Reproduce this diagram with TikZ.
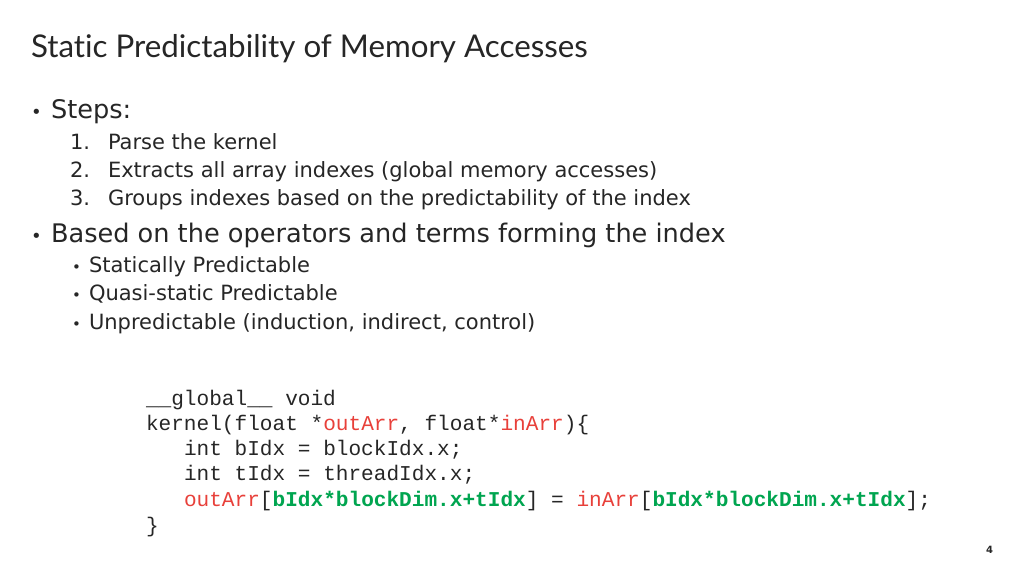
\documentclass[tikz,border=0pt]{standalone}
\usepackage{fontspec}
\setmainfont{DejaVu Sans}
\newfontfamily\titlefont[Ligatures=NoCommon]{Lato}
\newfontfamily\codefont{Liberation Mono}
\definecolor{txt}{HTML}{262626}
\definecolor{cred}{HTML}{E8403A}
\definecolor{cgreen}{HTML}{00A550}
\begin{document}
\begin{tikzpicture}[x=1pt,y=-1pt,
  every node/.style={anchor=base west,inner sep=0pt,outer sep=0pt,text=txt},
  big/.style={font=\fontsize{25.6}{28}\selectfont},
  small/.style={font=\fontsize{21}{24}\selectfont},
  code/.style={font=\codefont\fontsize{21.1}{25}\selectfont}]
\useasboundingbox[fill=white] (0,0) rectangle (1024,576);
\node (title) [font=\titlefont\fontsize{31.3}{34}\selectfont] at (31,57) {Static Predictability of Memory Accesses};
\node (b1) [font=\fontsize{18}{20}\selectfont] at (31,118) {•};
\node (steps) [big] at (51,118) {Steps:};
\node (k1) [small] at (70,149) {1.};
\node (n1) [small] at (108,149) {Parse the kernel};
\node (k2) [small] at (70,177) {2.};
\node (n2) [small] at (108,177) {Extracts all array indexes (global memory accesses)};
\node (k3) [small] at (70,205) {3.};
\node (n3) [small] at (108,205) {Groups indexes based on the predictability of the index};
\node (b2) [font=\fontsize{18}{20}\selectfont] at (31,242) {•};
\node (based) [big] at (51,242) {Based on the operators and terms forming the index};
\node (d1) [font=\fontsize{15}{18}\selectfont] at (72,272) {•};
\node (s1) [small] at (89,272) {Statically Predictable};
\node (d2) [font=\fontsize{15}{18}\selectfont] at (72,300) {•};
\node (s2) [small] at (89,300) {Quasi-static Predictable};
\node (d3) [font=\fontsize{15}{18}\selectfont] at (72,329) {•};
\node (s3) [small] at (89,329) {Unpredictable (induction, indirect, control)};
\node (c1) [code] at (146,405) {\_\_global\_\_ void};
\node (c2) [code] at (146,430) {kernel(float *\textcolor{cred}{outArr}, float*\textcolor{cred}{inArr})\{};
\node (c3) [code] at (184,455) {int bIdx = blockIdx.x;};
\node (c4) [code] at (184,480) {int tIdx = threadIdx.x;};
\node (c5) [code] at (184,506) {\textcolor{cred}{outArr}[\textcolor{cgreen}{\bfseries bIdx*blockDim.x+tIdx}] = \textcolor{cred}{inArr}[\textcolor{cgreen}{\bfseries bIdx*blockDim.x+tIdx}];};
\node (c6) [code] at (146,532) {\}};
\node (pg) [font=\bfseries\fontsize{10}{12}\selectfont] at (986,553) {4};
\end{tikzpicture}
\end{document}
